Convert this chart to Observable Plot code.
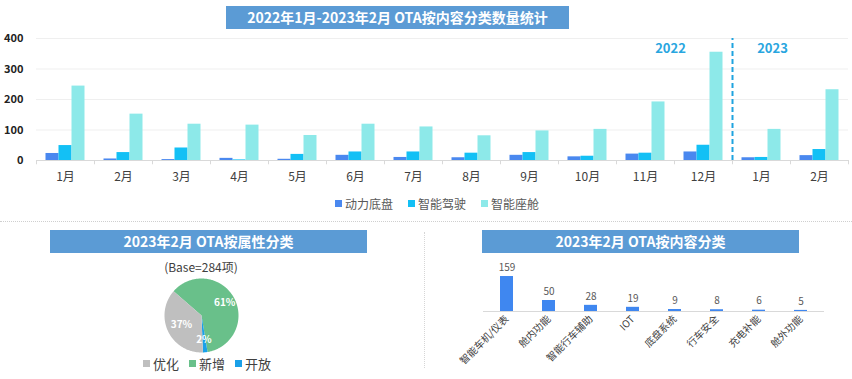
<!DOCTYPE html>
<html><head><meta charset="utf-8">
<script src="https://cdn.jsdelivr.net/npm/d3@7"></script>
<script src="https://cdn.jsdelivr.net/npm/@observablehq/plot@0.6"></script>
<style>
body{margin:0;background:#fff;font-family:"Noto Sans CJK SC","Noto Sans",sans-serif;}
#wrap{position:relative;width:852px;height:379px;overflow:hidden;background:#fff;}
.abs{position:absolute;}
.tbox{position:absolute;background:#5b9bd5;color:#fff;font-weight:bold;font-size:14px;text-align:center;height:23px;line-height:23px;white-space:nowrap;}
.leg{position:absolute;display:flex;align-items:center;white-space:nowrap;}
.leg span.sw{display:inline-block;width:7px;height:7px;margin-right:3px;}
.leg span.it{display:inline-flex;align-items:center;}
</style></head>
<body><div id="wrap"></div>
<script>
// ---------- data ----------
const months = ["1月","2月","3月","4月","5月","6月","7月","8月","9月","10月","11月","12月","1月","2月"];
const monthKeys = ["2022-01","2022-02","2022-03","2022-04","2022-05","2022-06","2022-07","2022-08","2022-09","2022-10","2022-11","2022-12","2023-01","2023-02"];
const seriesNames = ["动力底盘","智能驾驶","智能座舱"];
const powertrain = [23,5,3,7,4,17,10,9,17,12,21,28,9,16];
const adas = [49,26,41,2,20,28,28,24,26,14,24,50,10,36];
const cockpit = [244,152,119,116,82,119,110,81,97,102,192,355,102,232];
const seriesColors = ["#4a88ef","#13c0f5","#8de9e9"];
const yTicks = [0,100,200,300,400];
const yearLabels = ["2022","2023"];

const attrCats = ["新增","开放","优化"];
const attrShares = [61,2,37];
const attrColors = ["#69c08a","#1aa0e8","#bfbfbf"];
const attrLegendOrder = ["优化","新增","开放"];
const attrBase = "(Base=284项)";

const contentCats = ["智能车机/仪表","舱内功能","智能行车辅助","IOT","底盘系统","行车安全","充电补能","舱外功能"];
const contentCounts = [159,50,28,19,9,8,6,5];

const titles = ["2022年1月-2023年2月 OTA按内容分类数量统计","2023年2月 OTA按属性分类","2023年2月 OTA按内容分类"];

const FONT = '"Noto Sans CJK SC","Noto Sans",sans-serif';
const wrap = document.getElementById("wrap");
function place(el, left, top){ el.style.position="absolute"; el.style.left=left+"px"; el.style.top=top+"px"; wrap.appendChild(el); return el; }

// ---------- main grouped bars ----------
const rows = monthKeys.map((k,i)=>({key:k, p:powertrain[i], a:adas[i], c:cockpit[i]}));
const band = (852-36-4)/14;
const bw = 13;
const off = (band - 3*bw)/2;
const mainPlot = Plot.plot({
  width: 852, height: 160,
  marginLeft: 36, marginRight: 4, marginTop: 8, marginBottom: 30,
  style: {fontFamily: FONT, background: "transparent", overflow: "visible"},
  x: {domain: monthKeys, padding: 0, axis: null},
  y: {domain: [0,400], axis: null},
  marks: [
    Plot.ruleY(yTicks.slice(1), {stroke: "#efefef", strokeWidth: 1}),
    Plot.ruleY([0], {stroke: "#d9d9d9"}),
    Plot.ruleX(monthKeys, {x: d=>d, y1: 0, y2: -14, dx: -band/2, stroke: "#d9d9d9"}),
    Plot.ruleX([monthKeys[monthKeys.length-1]], {x: d=>d, y1: 0, y2: -14, dx: band/2, stroke: "#d9d9d9"}),
    Plot.barY(rows, {x: "key", y: "p", fill: seriesColors[0], insetLeft: off, insetRight: band-off-bw}),
    Plot.barY(rows, {x: "key", y: "a", fill: seriesColors[1], insetLeft: off+bw, insetRight: band-off-2*bw}),
    Plot.barY(rows, {x: "key", y: "c", fill: seriesColors[2], insetLeft: off+2*bw, insetRight: off}),
    Plot.ruleX([monthKeys[12]], {x: d=>d, y1: 0, y2: 400, dx: -band/2, stroke: "#1fa3df", strokeWidth: 2, strokeDasharray: "5,3"}),
    Plot.text([yearLabels[0]], {x: ()=>monthKeys[10], y: ()=>365, dx: 25, text: d=>d, fill: "#29a6df", fontWeight: "bold", fontSize: 13}),
    Plot.text([yearLabels[1]], {x: ()=>monthKeys[12], y: ()=>365, dx: 11, text: d=>d, fill: "#29a6df", fontWeight: "bold", fontSize: 13}),
    Plot.axisY(yTicks, {tickSize: 0, tickPadding: 13, fontSize: 11, fontWeight: "bold", fill: "#222", label: null}),
    Plot.axisX({tickSize: 0, tickPadding: 12, fontSize: 12, fill: "#404040", tickFormat: k=>months[monthKeys.indexOf(k)], label: null})
  ]
});
place(mainPlot, 0, 30);

// title boxes
function tbox(text, left, top, width){
  const d = document.createElement("div"); d.className="tbox"; d.textContent=text;
  d.style.width = width+"px"; place(d, left, top); return d;
}
tbox(titles[0], 226, 6, 343);
tbox(titles[1], 50, 230, 317);
tbox(titles[2], 482, 230, 317);

// main legend
function legend(names, colors, left, top, fontSize, gap, color){
  const d = document.createElement("div"); d.className="leg";
  d.style.fontSize = fontSize+"px"; d.style.color = color;
  names.forEach((n,i)=>{
    const it = document.createElement("span"); it.className="it"; it.style.marginRight = gap+"px";
    const sw = document.createElement("span"); sw.className="sw"; sw.style.background = colors[i];
    it.appendChild(sw); it.appendChild(document.createTextNode(n)); d.appendChild(it);
  });
  place(d, left, top); return d;
}
legend(seriesNames, seriesColors, 335, 195, 12, 15, "#595959");

// separators
const sepH = document.createElement("div");
sepH.style.cssText = "width:852px;height:0;border-top:1px dotted #cfcfcf;";
place(sepH, 0, 221);
const sepV = document.createElement("div");
sepV.style.cssText = "width:0;height:136px;border-left:1px dotted #d6d6d6;";
place(sepV, 424, 232);

// ---------- pie ----------
const pieData = attrCats.map((c,i)=>({cat:c, value:attrShares[i]}));
const a0 = -49*Math.PI/180;
const arcs = d3.pie().sort(null).value(d=>d.value).startAngle(a0).endAngle(a0+2*Math.PI)(pieData);
const piePts = [];
arcs.forEach(a=>{
  piePts.push({cat:a.data.cat, x:0, y:0});
  const n = Math.max(2, Math.ceil((a.endAngle-a.startAngle)/(Math.PI/180)));
  for(let j=0;j<=n;j++){ const t = a.startAngle + (a.endAngle-a.startAngle)*j/n; piePts.push({cat:a.data.cat, x:Math.sin(t), y:Math.cos(t)}); }
});
const pieLabels = arcs.map(a=>{ const m=(a.startAngle+a.endAngle)/2; const r = a.data.value<5?0.66:(a.data.value>50?0.72:0.6); return {x:Math.sin(m)*r, y:Math.cos(m)*r, t:a.data.value+"%"}; });
const piePlot = Plot.plot({
  width: 100, height: 74, margin: 0, marginLeft: 13, marginRight: 13,
  style: {fontFamily: FONT, background: "transparent", overflow: "visible"},
  x: {domain: [-1,1], axis: null},
  y: {domain: [-1,1], axis: null},
  color: {domain: attrCats, range: attrColors},
  marks: [
    Plot.line(piePts, {x: "x", y: "y", z: "cat", fill: "cat", stroke: "none", curve: "linear-closed"}),
    Plot.text(pieLabels, {x: "x", y: "y", text: "t", fill: "white", fontWeight: "bold", fontSize: 10})
  ]
});
place(piePlot, 151, 278);

const baseLbl = document.createElement("div");
baseLbl.textContent = attrBase;
baseLbl.style.cssText = "font-size:12px;color:#404040;width:160px;text-align:center;";
place(baseLbl, 121, 258);

legend(attrLegendOrder, attrLegendOrder.map(c=>attrColors[attrCats.indexOf(c)]), 143, 354, 13, 10, "#404040");

// ---------- content bars ----------
const contentRows = contentCats.map((c,i)=>({cat:c, n:contentCounts[i]}));
const contentPlot = Plot.plot({
  width: 432, height: 119,
  marginLeft: 63, marginRight: 28, marginTop: 7, marginBottom: 68,
  style: {fontFamily: FONT, background: "transparent", overflow: "visible"},
  x: {domain: contentCats, paddingInner: 0.68, paddingOuter: 0.34, axis: null},
  y: {domain: [0,200], axis: null},
  marks: [
    Plot.ruleY([0], {stroke: "#d9d9d9"}),
    Plot.barY(contentRows, {x: "cat", y: "n", fill: "#3f87f0"}),
    Plot.text(contentRows, {x: "cat", y: "n", text: d=>String(d.n), dy: -9, fill: "#595959", fontSize: 10}),
    Plot.axisX({tickSize: 0, tickPadding: 6, tickRotate: -45, fontSize: 10, fill: "#404040", label: null})
  ]
});
place(contentPlot, 420, 260);
</script></body></html>
